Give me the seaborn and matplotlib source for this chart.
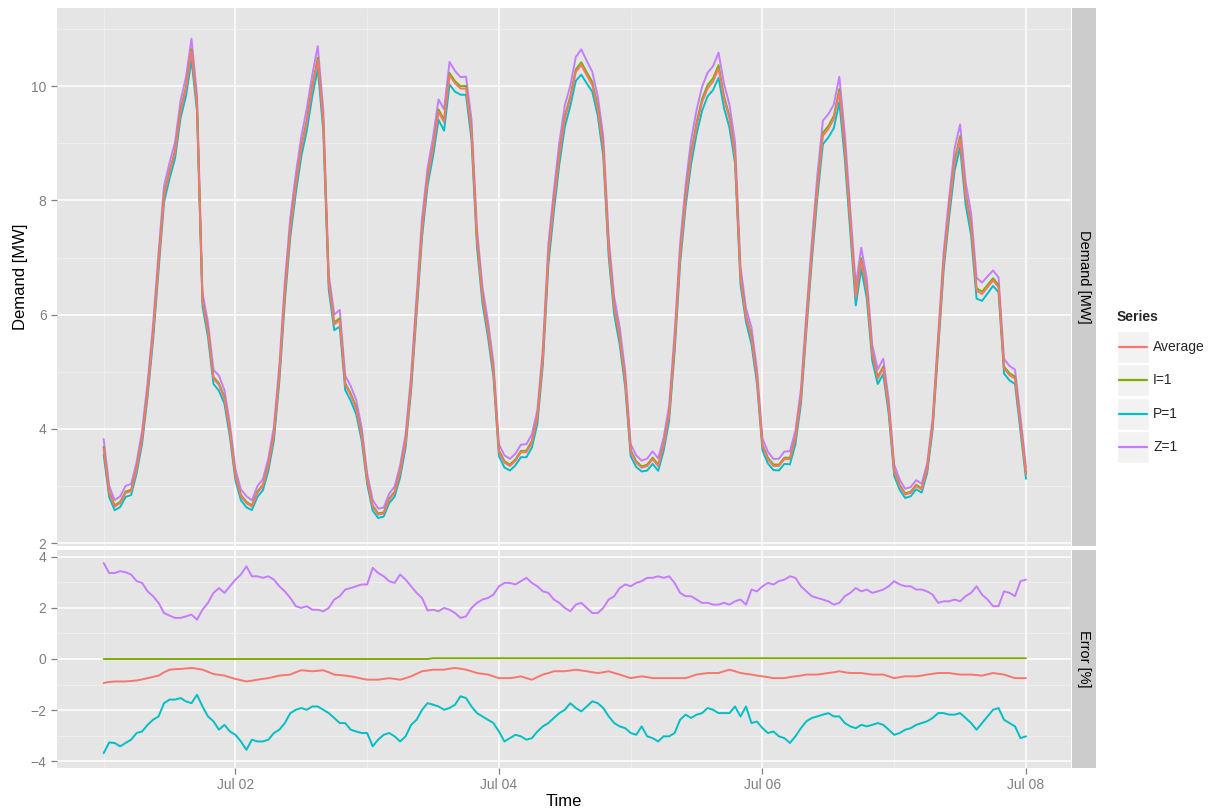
import numpy as np
import pandas as pd
import matplotlib
matplotlib.use("Agg")
import matplotlib.pyplot as plt
import matplotlib.dates as mdates
from matplotlib.patches import Rectangle
import seaborn as sns

# ---- data (hourly, Jul 01 00:00 .. Jul 08 00:00) ----
series_names = ["Average", "I=1", "P=1", "Z=1"]
series_colors = ["#F8766D", "#7CAE00", "#00BFC4", "#C77CFF"]
start_time = "2013-07-01 00:00"

# demand of the "Average" series [MW]
demand_average = [
    3.65, 2.88, 2.64, 2.70, 2.88, 2.91, 3.29, 3.82, 4.65, 5.65, 6.89, 8.07,
    8.48, 8.84, 9.55, 9.96, 10.61, 9.66, 6.24, 5.71, 4.88, 4.77, 4.53, 3.94,
    3.17, 2.82, 2.70, 2.64, 2.88, 3.00, 3.35, 3.88, 4.94, 6.36, 7.48, 8.25,
    8.90, 9.37, 9.96, 10.45, 9.37, 6.54, 5.83, 5.90, 4.77, 4.59, 4.35, 3.88,
    3.10, 2.64, 2.50, 2.52, 2.76, 2.88, 3.23, 3.76, 4.77, 6.12, 7.48, 8.37,
    8.90, 9.55, 9.37, 10.19, 10.05, 9.96, 9.96, 9.19, 7.30, 6.30, 5.71, 5.00,
    3.60, 3.41, 3.35, 3.44, 3.59, 3.59, 3.76, 4.18, 5.24, 7.01, 7.95, 8.78,
    9.43, 9.78, 10.25, 10.37, 10.19, 10.02, 9.60, 8.90, 7.13, 6.12, 5.59, 4.83,
    3.60, 3.41, 3.32, 3.35, 3.47, 3.35, 3.70, 4.24, 5.47, 7.01, 8.01, 8.78,
    9.31, 9.72, 9.96, 10.08, 10.31, 9.78, 9.43, 8.78, 6.65, 5.95, 5.59, 4.88,
    3.70, 3.47, 3.35, 3.35, 3.47, 3.47, 3.82, 4.53, 5.83, 7.07, 8.19, 9.13,
    9.25, 9.43, 9.90, 8.90, 7.60, 6.30, 6.95, 6.42, 5.30, 4.88, 5.06, 4.35,
    3.25, 3.00, 2.85, 2.88, 3.00, 2.94, 3.29, 4.06, 5.47, 6.89, 7.83, 8.66,
    9.07, 8.07, 7.54, 6.42, 6.36, 6.48, 6.60, 6.48, 5.06, 4.94, 4.88, 4.06,
    3.20,
]

# errors [%]
error_average = [
    -0.94, -0.90, -0.88, -0.88, -0.88, -0.86, -0.84, -0.80, -0.75, -0.70, -0.65, -0.52,
    -0.42, -0.40, -0.39, -0.37, -0.35, -0.38, -0.42, -0.50, -0.59, -0.62, -0.65, -0.72,
    -0.78, -0.83, -0.88, -0.85, -0.81, -0.78, -0.75, -0.70, -0.65, -0.63, -0.61, -0.52,
    -0.44, -0.46, -0.48, -0.46, -0.44, -0.52, -0.61, -0.63, -0.65, -0.68, -0.72, -0.77,
    -0.81, -0.81, -0.81, -0.78, -0.75, -0.78, -0.81, -0.75, -0.68, -0.58, -0.48, -0.45,
    -0.42, -0.42, -0.42, -0.38, -0.35, -0.38, -0.42, -0.48, -0.55, -0.58, -0.61, -0.68,
    -0.75, -0.75, -0.75, -0.72, -0.68, -0.75, -0.81, -0.71, -0.61, -0.55, -0.48, -0.48,
    -0.48, -0.45, -0.42, -0.45, -0.48, -0.52, -0.55, -0.52, -0.48, -0.55, -0.61, -0.68,
    -0.75, -0.71, -0.68, -0.71, -0.75, -0.75, -0.75, -0.75, -0.75, -0.75, -0.75, -0.68,
    -0.61, -0.58, -0.55, -0.55, -0.55, -0.48, -0.42, -0.48, -0.55, -0.58, -0.61, -0.65,
    -0.68, -0.71, -0.75, -0.75, -0.75, -0.71, -0.68, -0.65, -0.61, -0.61, -0.61, -0.58,
    -0.55, -0.52, -0.48, -0.52, -0.55, -0.55, -0.55, -0.58, -0.61, -0.61, -0.61, -0.68,
    -0.75, -0.71, -0.68, -0.68, -0.68, -0.65, -0.61, -0.58, -0.55, -0.55, -0.55, -0.58,
    -0.61, -0.61, -0.61, -0.63, -0.65, -0.60, -0.55, -0.58, -0.61, -0.68, -0.75, -0.75,
    -0.75,
]

error_i1 = [
    0.00, 0.00, 0.00, 0.00, 0.00, 0.00, 0.00, 0.00, 0.00, 0.00, 0.00, 0.00,
    0.00, 0.00, 0.00, 0.00, 0.00, 0.00, 0.00, 0.00, 0.00, 0.00, 0.00, 0.00,
    0.00, 0.00, 0.00, 0.00, 0.00, 0.00, 0.00, 0.00, 0.00, 0.00, 0.00, 0.00,
    0.00, 0.00, 0.00, 0.00, 0.00, 0.00, 0.00, 0.00, 0.00, 0.00, 0.00, 0.00,
    0.00, 0.00, 0.00, 0.00, 0.00, 0.00, 0.00, 0.00, 0.00, 0.00, 0.00, 0.00,
    0.03, 0.03, 0.03, 0.03, 0.03, 0.03, 0.03, 0.03, 0.03, 0.03, 0.03, 0.03,
    0.03, 0.03, 0.03, 0.03, 0.03, 0.03, 0.03, 0.03, 0.03, 0.03, 0.03, 0.03,
    0.03, 0.03, 0.03, 0.03, 0.03, 0.03, 0.03, 0.03, 0.03, 0.03, 0.03, 0.03,
    0.03, 0.03, 0.03, 0.03, 0.03, 0.03, 0.03, 0.03, 0.03, 0.03, 0.03, 0.03,
    0.03, 0.03, 0.03, 0.03, 0.03, 0.03, 0.03, 0.03, 0.03, 0.03, 0.03, 0.03,
    0.03, 0.03, 0.03, 0.03, 0.03, 0.03, 0.03, 0.03, 0.03, 0.03, 0.03, 0.03,
    0.03, 0.03, 0.03, 0.03, 0.03, 0.03, 0.03, 0.03, 0.03, 0.03, 0.03, 0.03,
    0.03, 0.03, 0.03, 0.03, 0.03, 0.03, 0.03, 0.03, 0.03, 0.03, 0.03, 0.03,
    0.03, 0.03, 0.03, 0.03, 0.03, 0.03, 0.03, 0.03, 0.03, 0.03, 0.03, 0.03,
    0.03,
]

error_p1 = [
    -3.69, -3.27, -3.29, -3.42, -3.29, -3.16, -2.90, -2.84, -2.58, -2.38, -2.25, -1.73,
    -1.59, -1.59, -1.53, -1.66, -1.73, -1.40, -1.86, -2.25, -2.44, -2.77, -2.58, -2.84,
    -2.97, -3.23, -3.56, -3.16, -3.23, -3.23, -3.16, -2.90, -2.77, -2.51, -2.12, -1.99,
    -1.92, -1.99, -1.86, -1.86, -1.99, -2.12, -2.31, -2.51, -2.51, -2.77, -2.84, -2.90,
    -2.90, -3.42, -3.16, -2.97, -2.90, -3.03, -3.23, -3.03, -2.58, -2.38, -1.99, -1.73,
    -1.79, -1.86, -1.99, -1.92, -1.79, -1.46, -1.53, -1.86, -2.12, -2.25, -2.38, -2.51,
    -2.84, -3.23, -3.10, -2.97, -3.03, -3.16, -3.10, -2.84, -2.64, -2.51, -2.31, -2.12,
    -1.99, -1.73, -1.92, -2.05, -1.86, -1.66, -1.73, -1.92, -2.25, -2.51, -2.64, -2.71,
    -2.90, -2.97, -2.64, -3.03, -3.10, -3.23, -3.03, -3.03, -2.90, -2.38, -2.18, -2.31,
    -2.18, -2.12, -1.92, -1.99, -2.12, -2.12, -2.12, -1.86, -2.25, -1.86, -2.51, -2.45,
    -2.71, -2.90, -2.84, -3.03, -3.10, -3.29, -3.03, -2.71, -2.44, -2.31, -2.25, -2.18,
    -2.12, -2.25, -2.25, -2.51, -2.64, -2.71, -2.58, -2.64, -2.58, -2.51, -2.58, -2.77,
    -2.97, -2.90, -2.77, -2.71, -2.58, -2.51, -2.44, -2.31, -2.12, -2.12, -2.18, -2.18,
    -2.12, -2.31, -2.51, -2.77, -2.51, -2.25, -1.99, -1.92, -2.38, -2.51, -2.64, -3.10,
    -3.03,
]

error_z1 = [
    3.76, 3.37, 3.37, 3.44, 3.40, 3.31, 3.05, 2.98, 2.65, 2.46, 2.20, 1.80,
    1.70, 1.61, 1.61, 1.67, 1.74, 1.54, 1.93, 2.20, 2.59, 2.78, 2.59, 2.85,
    3.11, 3.31, 3.63, 3.24, 3.24, 3.18, 3.24, 3.11, 2.85, 2.65, 2.39, 2.07,
    2.00, 2.07, 1.93, 1.93, 1.87, 2.00, 2.33, 2.46, 2.72, 2.78, 2.85, 2.92,
    2.92, 3.57, 3.37, 3.24, 3.05, 2.98, 3.31, 3.11, 2.85, 2.59, 2.39, 1.90,
    1.93, 1.87, 2.00, 1.93, 1.80, 1.61, 1.67, 2.00, 2.20, 2.33, 2.39, 2.52,
    2.85, 2.98, 2.98, 2.92, 3.05, 3.18, 2.98, 2.85, 2.65, 2.59, 2.33, 2.20,
    2.00, 1.87, 2.13, 2.20, 2.00, 1.80, 1.80, 2.00, 2.33, 2.46, 2.78, 2.92,
    2.85, 2.98, 3.05, 3.18, 3.18, 3.24, 3.18, 3.24, 2.98, 2.59, 2.46, 2.46,
    2.33, 2.20, 2.20, 2.13, 2.13, 2.20, 2.13, 2.26, 2.33, 2.13, 2.72, 2.65,
    2.85, 2.98, 2.92, 3.05, 3.11, 3.24, 3.18, 2.85, 2.65, 2.46, 2.39, 2.33,
    2.26, 2.13, 2.20, 2.46, 2.59, 2.78, 2.65, 2.72, 2.59, 2.65, 2.72, 2.85,
    3.05, 2.92, 2.85, 2.85, 2.72, 2.72, 2.65, 2.52, 2.20, 2.26, 2.26, 2.33,
    2.26, 2.46, 2.59, 2.85, 2.52, 2.33, 2.07, 2.07, 2.65, 2.59, 2.46, 3.05,
    3.11,
]

# ---- long table: demand of each series follows from its error ----
times = pd.date_range(start_time, periods=len(demand_average), freq="h")
errors = {"Average": error_average, "I=1": error_i1, "P=1": error_p1, "Z=1": error_z1}
measured = np.array(demand_average) / (1 + np.array(error_average) / 100)

frames = []
for name in series_names:
    err = np.array(errors[name])
    frames.append(pd.DataFrame({"Time": times, "Series": name,
                                "Demand": measured * (1 + err / 100), "Error": err}))
df = pd.concat(frames, ignore_index=True)

palette = dict(zip(series_names, series_colors))
draw_order = ["Z=1", "P=1", "I=1", "Average"]

# ---- figure ----
sns.set_style("darkgrid", rc={"axes.facecolor": "#E5E5E5", "grid.color": "white"})
plt.rcParams["font.family"] = ["Liberation Sans", "DejaVu Sans"]

W, H = 1213, 811
fig = plt.figure(figsize=(W / 100, H / 100), dpi=100)


def frac(x0, y0, x1, y1):
    return [x0 / W, 1 - y1 / H, (x1 - x0) / W, (y1 - y0) / H]


ax_top = fig.add_axes(frac(57, 8, 1071, 546))
ax_bot = fig.add_axes(frac(57, 550, 1071, 768), sharex=ax_top)

sns.lineplot(data=df, x="Time", y="Demand", hue="Series", hue_order=draw_order,
             palette=palette, estimator=None, linewidth=1.4, legend=False, ax=ax_top)
sns.lineplot(data=df, x="Time", y="Error", hue="Series", hue_order=draw_order,
             palette=palette, estimator=None, linewidth=1.4, legend=False, ax=ax_bot)


def style_panel(ax, major, minor, lim):
    ax.set_facecolor("#E5E5E5")
    ax.set_ylim(lim)
    ax.set_yticks(major)
    ax.set_yticks(minor, minor=True)
    ax.grid(which="major", color="white", linewidth=1.1)
    ax.grid(which="minor", color="#F2F2F2", linewidth=0.5)
    ax.set_axisbelow(True)
    for s in ax.spines.values():
        s.set_visible(False)
    ax.tick_params(which="major", colors="#7F7F7F", length=4, width=0.9, labelsize=10,
                   left=True, bottom=True)
    ax.tick_params(which="minor", length=0)


style_panel(ax_top, [2, 4, 6, 8, 10], [3, 5, 7, 9, 11], (1.95, 11.37))
style_panel(ax_bot, [-4, -2, 0, 2, 4], [-3, -1, 1, 3], (-4.27, 4.27))

t0 = pd.Timestamp(start_time)
ax_bot.set_xlim(t0 - pd.Timedelta(hours=8.5), t0 + pd.Timedelta(hours=176.2))
ax_bot.xaxis.set_major_locator(mdates.DayLocator(bymonthday=[2, 4, 6, 8]))
ax_bot.xaxis.set_minor_locator(mdates.DayLocator(bymonthday=[1, 3, 5, 7]))
ax_bot.xaxis.set_major_formatter(mdates.DateFormatter("%b %d"))
ax_top.tick_params(axis="x", which="both", length=0, labelbottom=False)

ax_top.set_xlabel("")
ax_top.set_ylabel("Demand [MW]", fontsize=12, color="black", labelpad=2)
ax_bot.set_ylabel("")
ax_bot.set_xlabel("Time", fontsize=12, color="black", labelpad=1)

# facet strips
for y0, y1, label in [(8, 546, "Demand [MW]"), (550, 768, "Error [%]")]:
    sax = fig.add_axes(frac(1072, y0, 1096, y1))
    sax.set_facecolor("#CCCCCC")
    sax.set_xticks([])
    sax.set_yticks([])
    sax.grid(False)
    for s in sax.spines.values():
        s.set_visible(False)
    sax.text(0.5, 0.5, label, rotation=-90, ha="center", va="center",
             transform=sax.transAxes, fontsize=10.5, color="black")

# legend
lax = fig.add_axes(frac(1105, 300, 1213, 470))
lax.set_xlim(1105, 1213)
lax.set_ylim(470, 300)
lax.axis("off")
lax.text(1117, 317, "Series", fontweight="bold", fontsize=10, va="center")
for k, (name, color) in enumerate(zip(series_names, series_colors)):
    top = 331 + 33.4 * k
    lax.add_patch(Rectangle((1117, top), 32, 32, facecolor="#F2F2F2",
                            edgecolor="white", linewidth=1))
    lax.plot([1119, 1147], [top + 16, top + 16], color=color, linewidth=1.6)
    lax.text(1153, top + 16, name, va="center", fontsize=10)

fig.savefig("out.png", dpi=100)
